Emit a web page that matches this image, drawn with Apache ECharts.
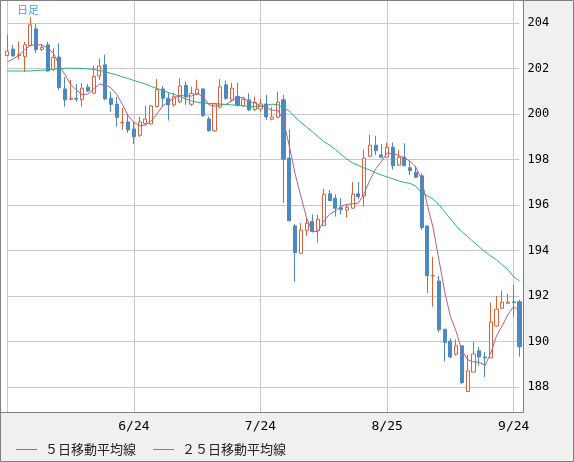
<!DOCTYPE html>
<html><head><meta charset="utf-8">
<script src="https://cdn.jsdelivr.net/npm/echarts@6.0.0/dist/echarts.min.js"></script>
<style>html,body{margin:0;padding:0;background:#f0f0f0}#c{width:574px;height:462px}</style>
</head><body><div id="c"></div>
<script>
const dates = ['5/23','5/26','5/27','5/28','5/29','5/30','6/2','6/3','6/4','6/5',
'6/6','6/9','6/10','6/11','6/12','6/13','6/16','6/17','6/18','6/19',
'6/20','6/23','6/24','6/25','6/26','6/27','6/30','7/1','7/2','7/3',
'7/4','7/7','7/8','7/9','7/10','7/11','7/14','7/15','7/16','7/17',
'7/18','7/21','7/22','7/23','7/24','7/25','7/28','7/29','7/30','7/31',
'8/1','8/4','8/5','8/6','8/7','8/8','8/11','8/12','8/13','8/14',
'8/15','8/18','8/19','8/20','8/21','8/22','8/25','8/26','8/27','8/28',
'8/29','9/1','9/2','9/3','9/4','9/5','9/8','9/9','9/10','9/11',
'9/12','9/15','9/16','9/17','9/18','9/19','9/22','9/23','9/24','9/25'];
const opens = [202.58,202.86,202.58,202.53,203.02,203.75,202.85,203.05,201.97,202.51,
201.11,200.66,200.70,200.64,201.19,200.92,201.68,202.17,200.70,200.44,
199.62,199.66,199.35,199.07,199.59,199.57,200.34,201.11,200.70,200.41,
200.55,201.26,200.44,200.88,201.11,199.79,199.27,200.31,201.29,200.63,
200.78,200.38,200.63,200.21,200.23,200.45,199.78,199.87,200.63,198.07,
195.09,193.89,194.89,195.28,194.88,195.10,196.50,196.31,195.89,195.79,
195.87,196.50,196.40,198.15,198.64,198.21,198.11,198.55,197.76,198.11,
197.65,197.45,197.29,195.09,192.89,192.67,190.55,190.03,189.45,189.82,
187.81,188.67,189.60,189.33,189.29,190.69,191.47,191.69,191.75,191.76];
const closes = [202.77,202.56,202.62,203.05,203.93,202.84,202.94,201.90,202.50,201.17,
200.64,200.70,200.66,201.14,201.02,201.66,202.12,200.67,200.43,199.86,
199.64,199.31,199.01,199.66,199.79,200.36,201.08,200.70,200.41,200.77,
201.24,200.76,200.92,201.10,199.94,199.27,200.45,201.20,200.70,201.14,
200.41,200.66,200.19,200.52,200.45,199.88,199.88,200.53,198.02,195.32,
193.92,194.91,195.21,194.84,195.38,196.48,196.20,195.87,195.82,195.91,
196.48,196.38,198.07,198.64,198.40,198.11,198.55,197.74,198.11,197.74,
197.52,197.23,195.02,192.91,192.91,190.52,189.97,189.33,189.82,188.20,
188.72,189.46,189.33,189.29,190.87,191.43,191.74,191.74,191.72,189.78];
const lows = [202.55,202.53,202.40,201.85,203.02,202.69,202.78,201.87,201.90,201.07,
200.33,200.61,200.55,200.33,200.98,200.89,201.51,200.63,200.10,199.45,
199.31,199.18,198.69,199.00,199.53,199.55,200.28,200.33,199.72,200.33,
200.48,200.41,200.37,200.85,199.89,199.23,199.23,200.26,200.63,200.55,
200.33,200.33,200.14,200.14,200.10,199.75,199.73,199.82,196.10,195.28,
192.64,193.89,194.66,194.80,194.36,195.10,196.20,195.50,195.60,195.45,
195.84,196.28,195.94,198.12,198.21,198.09,198.09,197.57,197.73,197.70,
197.32,197.19,194.91,192.13,191.54,190.41,189.13,189.27,189.38,188.13,
187.81,188.66,188.95,188.45,189.29,190.66,191.44,191.66,191.09,189.34];
const highs = [203.49,203.05,203.19,203.18,204.26,203.97,203.09,203.19,202.90,203.12,
201.63,201.51,201.33,201.36,201.33,202.12,202.45,202.61,200.99,200.76,
200.28,199.97,199.67,199.88,200.37,200.41,201.55,201.24,200.94,200.94,
201.58,201.43,201.21,201.51,201.13,199.89,200.50,201.54,201.48,201.39,
201.39,200.77,200.92,200.77,200.67,200.85,200.33,200.99,200.85,199.34,
195.17,195.21,195.43,195.60,195.57,196.72,196.67,196.48,196.31,196.01,
197.01,197.02,198.45,199.09,199.05,198.69,198.75,198.76,198.43,198.72,
197.95,197.73,197.41,195.09,193.73,192.89,190.55,190.15,190.10,189.82,
189.42,190.00,189.77,189.54,191.72,192.01,192.26,192.10,192.50,191.84];
const ma5 = [202.30,202.43,202.58,202.83,203.02,203.05,203.05,202.91,202.69,202.18,
201.74,201.31,201.07,200.86,200.88,201.11,201.32,201.30,201.16,200.88,
200.43,199.93,199.64,199.50,199.52,199.69,200.01,200.36,200.55,200.71,
200.82,200.80,200.80,200.91,200.77,200.42,200.35,200.41,200.43,200.59,
200.74,200.72,200.55,200.50,200.38,200.28,200.17,200.18,199.72,198.60,
197.40,196.40,195.45,194.84,194.85,195.30,195.60,195.75,195.95,196.04,
196.06,196.09,196.50,197.10,197.59,197.92,198.30,198.27,198.18,198.08,
197.93,197.67,197.12,196.00,195.00,193.60,192.20,191.10,190.45,189.60,
189.21,189.11,189.10,188.95,189.50,190.25,190.70,191.20,191.55,191.32];
const ma25 = [201.90,201.90,201.90,201.90,201.90,201.93,201.93,201.95,201.98,202.00,
202.02,202.02,202.02,202.01,201.99,201.97,201.93,201.87,201.79,201.73,
201.64,201.57,201.48,201.41,201.33,201.22,201.13,201.05,200.95,200.87,
200.77,200.67,200.58,200.53,200.50,200.47,200.47,200.45,200.43,200.41,
200.39,200.37,200.34,200.33,200.34,200.39,200.44,200.42,200.28,200.14,
199.88,199.64,199.44,199.23,199.01,198.80,198.64,198.45,198.23,198.03,
197.86,197.75,197.63,197.55,197.42,197.33,197.24,197.16,197.07,197.00,
196.96,196.83,196.54,196.41,196.26,196.03,195.71,195.40,195.09,194.83,
194.62,194.39,194.17,193.95,193.77,193.60,193.38,193.16,192.85,192.67];
const labelDates = ['6/24','7/24','8/25','9/24'];
const gridDates = ['5/23','6/24','7/24','8/25','9/24'];
const seriesNames = ['５日移動平均線','２５日移動平均線'];
const yMin = 186.91, yMax = 205.02;

const candles = opens.map((o, i) => [o, closes[i], lows[i], highs[i]]);
const chart = echarts.init(document.getElementById('c'), null, {renderer: 'canvas'});
chart.setOption({
  animation: false,
  backgroundColor: '#f0f0f0',
  graphic: [
    {type: 'rect', z: -10, silent: true, shape: {x: 0.5, y: 0.5, width: 523, height: 412}, style: {fill: '#ffffff', stroke: 'none'}},
    {type: 'rect', z: 100, silent: true, shape: {x: 0.5, y: 0.5, width: 523, height: 412}, style: {fill: 'none', stroke: '#808080', lineWidth: 1}},
    {type: 'rect', z: 100, silent: true, shape: {x: 0.5, y: 0.5, width: 573, height: 461}, style: {fill: 'none', stroke: '#808080', lineWidth: 1}},
    {type: 'text', z: 100, silent: true, left: 17, top: 4, style: {text: '日足', fill: '#3aa6e0', font: '11px "Noto Sans CJK JP"'}}
  ],
  grid: {left: 7.3, right: 54.5, top: 0, bottom: 50, containLabel: false, outerBoundsMode: 'none'},
  legend: {
    left: 11, top: 438, icon: 'rect', itemWidth: 21, itemHeight: 1, itemGap: 17, selectedMode: false,
    textStyle: {fontFamily: '"Noto Sans CJK JP"', fontSize: 13, color: '#222', padding: [0, 0, 0, 3]},
    data: seriesNames
  },
  xAxis: {
    type: 'category', data: dates, boundaryGap: false,
    axisLine: {show: false}, axisTick: {show: false},
    axisLabel: {interval: (i, v) => labelDates.includes(v), color: '#000', fontFamily: 'DejaVu Sans Mono', fontSize: 13, margin: 8},
    splitLine: {show: true, interval: (i, v) => gridDates.includes(v), lineStyle: {color: '#c8c8c8', width: 1}}
  },
  yAxis: {
    type: 'value', position: 'right', min: yMin, max: yMax, splitNumber: 9,
    axisLine: {show: false}, axisTick: {show: false},
    axisLabel: {showMinLabel: false, showMaxLabel: false, color: '#000', fontFamily: 'DejaVu Sans Mono', fontSize: 12, margin: 8},
    splitLine: {show: true, showMinLine: false, showMaxLine: false, lineStyle: {color: '#c8c8c8', width: 1}}
  },
  series: [
    {type: 'candlestick', data: candles, barWidth: 3.6, clip: false,
     itemStyle: {color: '#ffffff', color0: '#4a89c2', borderColor: '#d9623b', borderColor0: '#4a89c2', borderWidth: 1}},
    {type: 'line', name: seriesNames[0], data: ma5, symbol: 'none', showSymbol: false,
     lineStyle: {width: 1, color: '#b25f8c'}, itemStyle: {color: '#b25f8c'}},
    {type: 'line', name: seriesNames[1], data: ma25, symbol: 'none', showSymbol: false,
     lineStyle: {width: 1, color: '#2eaf78'}, itemStyle: {color: '#2eaf78'}}
  ]
});
</script></body></html>
